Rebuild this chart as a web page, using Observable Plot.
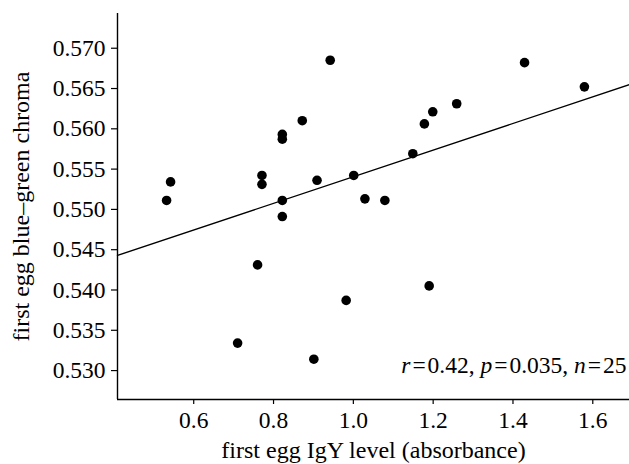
<!DOCTYPE html>
<html>
<head>
<meta charset="utf-8">
<script src="https://cdn.jsdelivr.net/npm/d3@7"></script>
<script src="https://cdn.jsdelivr.net/npm/@observablehq/plot@0.6"></script>
<style>
  html, body { margin: 0; padding: 0; background: #fff; }
  svg { display: block; }
</style>
</head>
<body>
<div id="chart"></div>
<script>
// first egg IgY level (absorbance)
const igy = [0.532, 0.542, 0.771, 0.771, 0.822, 0.822, 0.822, 0.822, 0.872, 0.909,
             0.942, 1.001, 1.029, 1.079, 1.149, 1.178, 1.199, 1.259, 1.429, 1.579,
             0.760, 0.710, 0.901, 0.982, 1.190];
// first egg blue-green chroma
const chroma = [0.5508, 0.5531, 0.5539, 0.5528, 0.5590, 0.5584, 0.5508, 0.5488, 0.5607, 0.5533,
                0.5682, 0.5539, 0.5510, 0.5508, 0.5566, 0.5603, 0.5618, 0.5628, 0.5679, 0.5649,
                0.5428, 0.5331, 0.5311, 0.5384, 0.5402];
// fitted regression line
const fitIntercept = 0.53722;
const fitSlope = 0.01652;
// axes
const xDomain = [0.409, 1.692];
const yDomain = [0.5261, 0.5740];
const xTicks = [0.6, 0.8, 1.0, 1.2, 1.4, 1.6];
const yTicks = [0.530, 0.535, 0.540, 0.545, 0.550, 0.555, 0.560, 0.565, 0.570];
const xLabel = "first egg IgY level (absorbance)";
const yLabel = "first egg blue\u2013green chroma";
const statParts = [["r", true], ["\u200A=\u200A0.42, ", false], ["p", true], ["\u200A=\u200A0.035, ", false], ["n", true], ["\u200A=\u200A25", false]];
const statText = statParts.map(d => d[0]).join("");

const points = igy.map((x, i) => ({x, y: chroma[i]}));
const fitLine = xDomain.map(x => ({x, y: fitIntercept + fitSlope * x}));
const serif = "'Liberation Serif', 'Times New Roman', serif";
const fs = 23.5;
const fsLabel = 24;

const plot = Plot.plot({
  width: 629,
  height: 464,
  marginLeft: 117,
  marginTop: 13,
  marginBottom: 65,
  marginRight: 0,
  style: {fontFamily: serif, fontSize: fs + "px", color: "#000", background: "#fff"},
  x: {domain: xDomain},
  y: {domain: yDomain},
  marks: [
    Plot.axisX({ticks: xTicks, tickFormat: d3.format(".1f"), tickSize: 5, tickPadding: 7, label: null, fontSize: fs, fontFamily: serif, fontVariant: "normal", stroke: "#000", strokeWidth: 1.2}),
    Plot.axisY({ticks: yTicks, tickFormat: d3.format(".3f"), tickSize: 6, tickPadding: 6, label: null, fontSize: fs, fontFamily: serif, fontVariant: "normal", dy: 2.5, stroke: "#000", strokeWidth: 1.2}),
    Plot.ruleX([xDomain[0]], {stroke: "#000", strokeWidth: 1.4}),
    Plot.ruleY([yDomain[0]], {stroke: "#000", strokeWidth: 1.4}),
    Plot.line(fitLine, {x: "x", y: "y", stroke: "#000", strokeWidth: 1.3}),
    Plot.dot(points, {x: "x", y: "y", r: 4.8, fill: "#000", stroke: "none"}),
    Plot.text([statText], {frameAnchor: "bottom-right", textAnchor: "end", lineAnchor: "middle", dx: -3, dy: -34, fontSize: fs, fontFamily: serif, fill: "#000"}),
    Plot.text([xLabel], {frameAnchor: "bottom", textAnchor: "middle", lineAnchor: "middle", dy: 50.6, fontSize: fsLabel, fontFamily: serif, fill: "#000"}),
    Plot.text([yLabel], {frameAnchor: "left", textAnchor: "middle", lineAnchor: "middle", rotate: -90, dx: -96.4, fontSize: fsLabel, fontFamily: serif, fill: "#000"})
  ]
});

// italicize the statistic symbols; force the serif face on every text
plot.querySelectorAll("text").forEach(t => {
  t.style.fontFamily = serif;
  t.style.fontVariant = "normal";
  if (t.textContent === statText) {
    t.textContent = "";
    statParts.forEach(([s, it]) => {
      const ts = document.createElementNS("http://www.w3.org/2000/svg", "tspan");
      ts.textContent = s;
      if (it) ts.setAttribute("font-style", "italic");
      t.appendChild(ts);
    });
  }
});

document.getElementById("chart").appendChild(plot);
</script>
</body>
</html>
